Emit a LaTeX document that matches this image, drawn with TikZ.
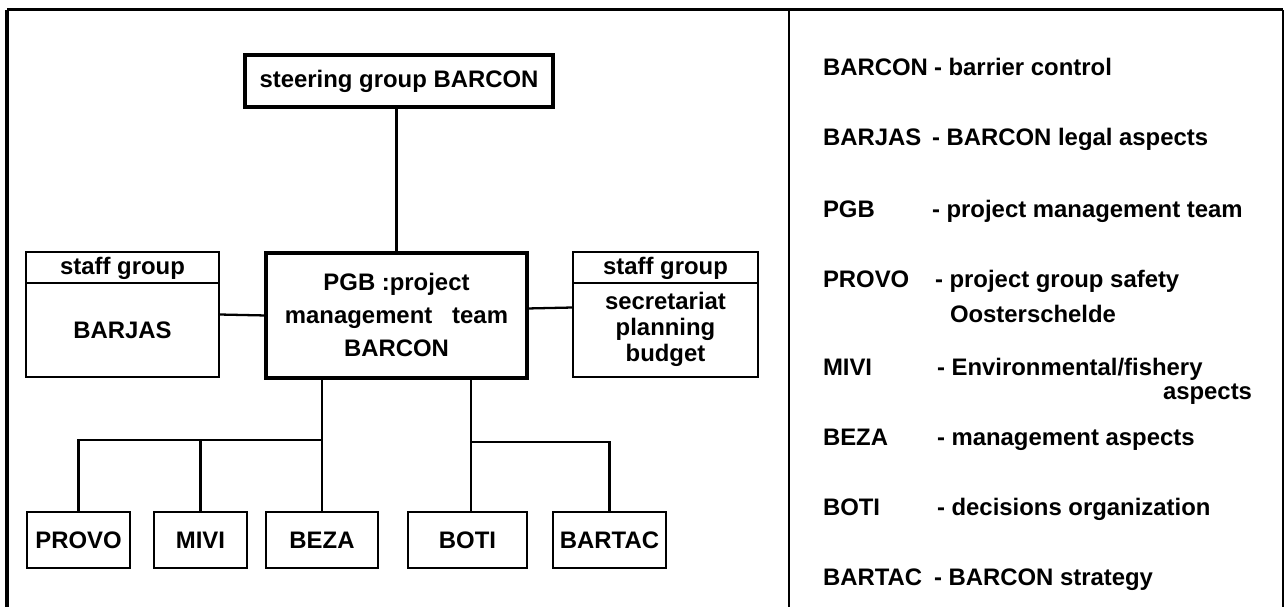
\documentclass[tikz,border=0pt]{standalone}
\usepackage{fontspec}
\setmainfont{Liberation Sans}
\usetikzlibrary{calc}
\begin{document}
\begin{tikzpicture}[x=0.02cm,y=-0.02cm,
  font=\fontsize{13.6}{16}\selectfont\bfseries,
  thickbox/.style={draw,line width=2.1pt,inner sep=0pt,outer sep=0pt},
  thinbox/.style={draw,line width=1.2pt,inner sep=0pt,outer sep=0pt},
  leafbox/.style={draw,line width=1.4pt,inner sep=0pt,outer sep=0pt,minimum height=1.12cm},
  conn/.style={line width=1.3pt},
  frame/.style={line width=1.4pt},
  txt/.style={inner sep=0pt,outer sep=0pt},
  lab/.style={inner sep=0pt,outer sep=0pt,anchor=base west},
]
\useasboundingbox (0,0) rectangle (1285,607);
% outer frame
\draw[frame,line width=2pt] (7,607) -- (7,10);
\draw[frame,line width=1.7pt] (7,10) -- (1283,10);
\draw[frame] (1283,10) -- (1283,607);
\draw[frame,line width=1.1pt] (789,10) -- (789,607);

% boxes
\node[thickbox,minimum width=6.16cm,minimum height=1.04cm] (steer) at (399,81) {steering group BARCON};
\node[thickbox,minimum width=5.22cm,minimum height=2.50cm] (pgb) at (396.5,315.5) {};
\node[txt,align=center,font=\fontsize{13.6}{18.8}\selectfont\bfseries] (pgbtxt) at (396.5,315) {PGB :project\\management\ \ \ team\\BARCON};
\node[thinbox,minimum width=3.86cm,minimum height=2.50cm] (staffL) at (122.5,314.5) {};
\node[thinbox,minimum width=3.70cm,minimum height=2.50cm] (staffR) at (665.5,314.5) {};
\coordinate (hdr) at (0,283);
\draw[line width=1.2pt] (staffL.west |- hdr) -- (staffL.east |- hdr);
\draw[line width=1.2pt] (staffR.west |- hdr) -- (staffR.east |- hdr);
\node[txt] (hL) at (122.5,268) {staff group};
\node[txt] (hR) at (665.5,268) {staff group};
\node[txt] (barjas) at (122.5,330) {BARJAS};
\node[txt,align=center,font=\fontsize{13.6}{14.8}\selectfont\bfseries] (secr) at (665.5,329) {secretariat\\planning\\budget};

\node[leafbox,minimum width=2.06cm] (provo) at (78.5,540) {PROVO};
\node[leafbox,minimum width=1.86cm] (mivi) at (200.5,540) {MIVI};
\node[leafbox,minimum width=2.24cm] (beza) at (322,540) {BEZA};
\node[leafbox,minimum width=2.38cm] (boti) at (467.5,540) {BOTI};
\node[leafbox,minimum width=2.26cm] (bartac) at (609.5,540) {BARTAC};

% connectors
\draw[conn] (pgb.north) -- (pgb.north |- steer.south);
\draw[conn] (staffL.east) -- (pgb.west);
\draw[conn] ($(pgb.east)+(0,-7)$) -- ($(staffR.west)+(0,-7)$);
\coordinate (busL) at (0,440);
\coordinate (busR) at (0,442);
\draw[conn] (beza.north) -- (beza.north |- pgb.south);
\draw[conn] (provo.north) |- (busL -| beza.north);
\draw[conn] (mivi.north) -- (mivi.north |- busL);
\draw[conn] ($(boti.north)+(3.5,0)$) -- ($(boti.north |- pgb.south)+(3.5,0)$);
\draw[conn] ($(boti.north |- busR)+(3.5,0)$) -| (bartac.north);

% legend
\node[lab] (k1) at (823,76) {BARCON};
\node[lab] (d1) at (934,76) {- barrier control};
\node[lab] (k2) at (823,146) {BARJAS};
\node[lab] (d2) at (932,146) {- BARCON legal aspects};
\node[lab] (k3) at (823,218) {PGB};
\node[lab] (d3) at (932,218) {- project management team};
\node[lab] (k4) at (823,288) {PROVO};
\node[lab] (d4) at (935,288) {- project group safety};
\node[lab] (d4b) at (950,323) {Oosterschelde};
\node[lab] (k5) at (823,376) {MIVI};
\node[lab] (d5) at (937,376) {- Environmental/fishery};
\node[txt,anchor=base east] (d5b) at (1252,400) {aspects};
\node[lab] (k6) at (823,446) {BEZA};
\node[lab] (d6) at (937,446) {- management aspects};
\node[lab] (k7) at (823,516) {BOTI};
\node[lab] (d7) at (937,516) {- decisions organization};
\node[lab] (k8) at (823,586) {BARTAC};
\node[lab] (d8) at (934,586) {- BARCON strategy};
\end{tikzpicture}
\end{document}
